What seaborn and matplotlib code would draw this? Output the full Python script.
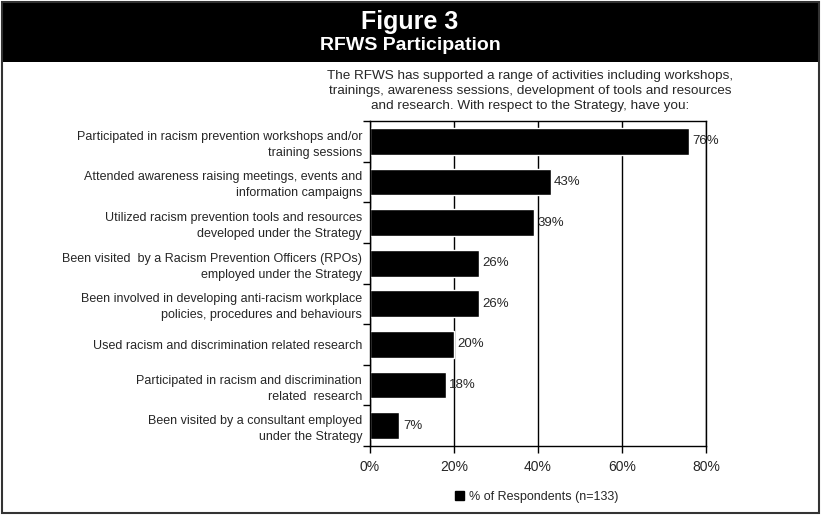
import pandas as pd
import seaborn as sns
import matplotlib.pyplot as plt
from matplotlib.patches import Rectangle, Patch
from matplotlib.ticker import FixedLocator

# Datos
actividades = [
    'Participated in racism prevention workshops and/or\ntraining sessions',
    'Attended awareness raising meetings, events and\ninformation campaigns',
    'Utilized racism prevention tools and resources\ndeveloped under the Strategy',
    'Been visited  by a Racism Prevention Officers (RPOs)\nemployed under the Strategy',
    'Been involved in developing anti-racism workplace\npolicies, procedures and behaviours',
    'Used racism and discrimination related research',
    'Participated in racism and discrimination\nrelated  research',
    'Been visited by a consultant employed\nunder the Strategy',
]
porcentajes = [76, 43, 39, 26, 26, 20, 18, 7]
etiquetas_x = ['0%', '20%', '40%', '60%', '80%']

datos = pd.DataFrame({'actividad': actividades, 'pct': porcentajes})

sns.set_style('white')
plt.rcParams['font.family'] = ['Liberation Sans', 'DejaVu Sans']

fig = plt.figure(figsize=(8.25, 5.23), dpi=100)
ax = fig.add_axes([370 / 825, 1 - 446 / 523, 336 / 825, 325 / 523])

sns.barplot(data=datos, x='pct', y='actividad', color='black', saturation=1,
            width=0.66, ax=ax)

ax.set_xlim(0, 80)
ax.set_xticks([0, 20, 40, 60, 80])
ax.set_xticklabels(etiquetas_x, fontsize=10)
ax.set_xlabel('')
ax.set_ylabel('')
for s in ax.spines.values():
    s.set_color('black')
    s.set_linewidth(1)
ax.grid(axis='x', color='black', linewidth=1)
ax.set_axisbelow(True)

ax.tick_params(axis='x', bottom=True, length=5, width=1, color='black', pad=5)
ax.tick_params(axis='y', which='major', left=False, labelsize=9, pad=2.2)
ax.yaxis.set_minor_locator(FixedLocator([i - 0.5 for i in range(len(actividades) + 1)]))
ax.tick_params(axis='y', which='minor', left=True, length=5, width=1, color='black')
for t in ax.get_yticklabels():
    t.set_multialignment('right')
    t.set_linespacing(1.45)

ax.bar_label(ax.containers[0], labels=[f'{v}%' for v in porcentajes],
             padding=2.5, fontsize=9.5)

# Encabezado y marco
fig.add_artist(Rectangle((1 / 825, 1 - 62 / 523), 818 / 825, 61 / 523,
                         transform=fig.transFigure, facecolor='black', edgecolor='none'))
fig.add_artist(Rectangle((1.5 / 825, 1 - 513 / 523), 817 / 825, 511.5 / 523,
                         transform=fig.transFigure, fill=False,
                         edgecolor='#333333', linewidth=1.5))
fig.text(410 / 825, 1 - 22 / 523, 'Figure 3', ha='center', va='center',
         color='white', fontsize=18, fontweight='bold')
fig.text(410 / 825, 1 - 46 / 523, 'RFWS Participation', ha='center', va='center',
         color='white', fontsize=14, fontweight='bold')

fig.text(530 / 825, 1 - 91 / 523,
         'The RFWS has supported a range of activities including workshops,\n'
         'trainings, awareness sessions, development of tools and resources\n'
         'and research. With respect to the Strategy, have you:',
         ha='center', va='center', fontsize=9.7, linespacing=1.3)

fig.legend(handles=[Patch(facecolor='black', edgecolor='black')],
           labels=['% of Respondents (n=133)'], loc='center',
           bbox_to_anchor=(537 / 825, 1 - 497 / 523), frameon=False,
           fontsize=9, handlelength=0.7, handleheight=0.7, handletextpad=0.4)

plt.savefig('out.png', dpi=100)
plt.close()
